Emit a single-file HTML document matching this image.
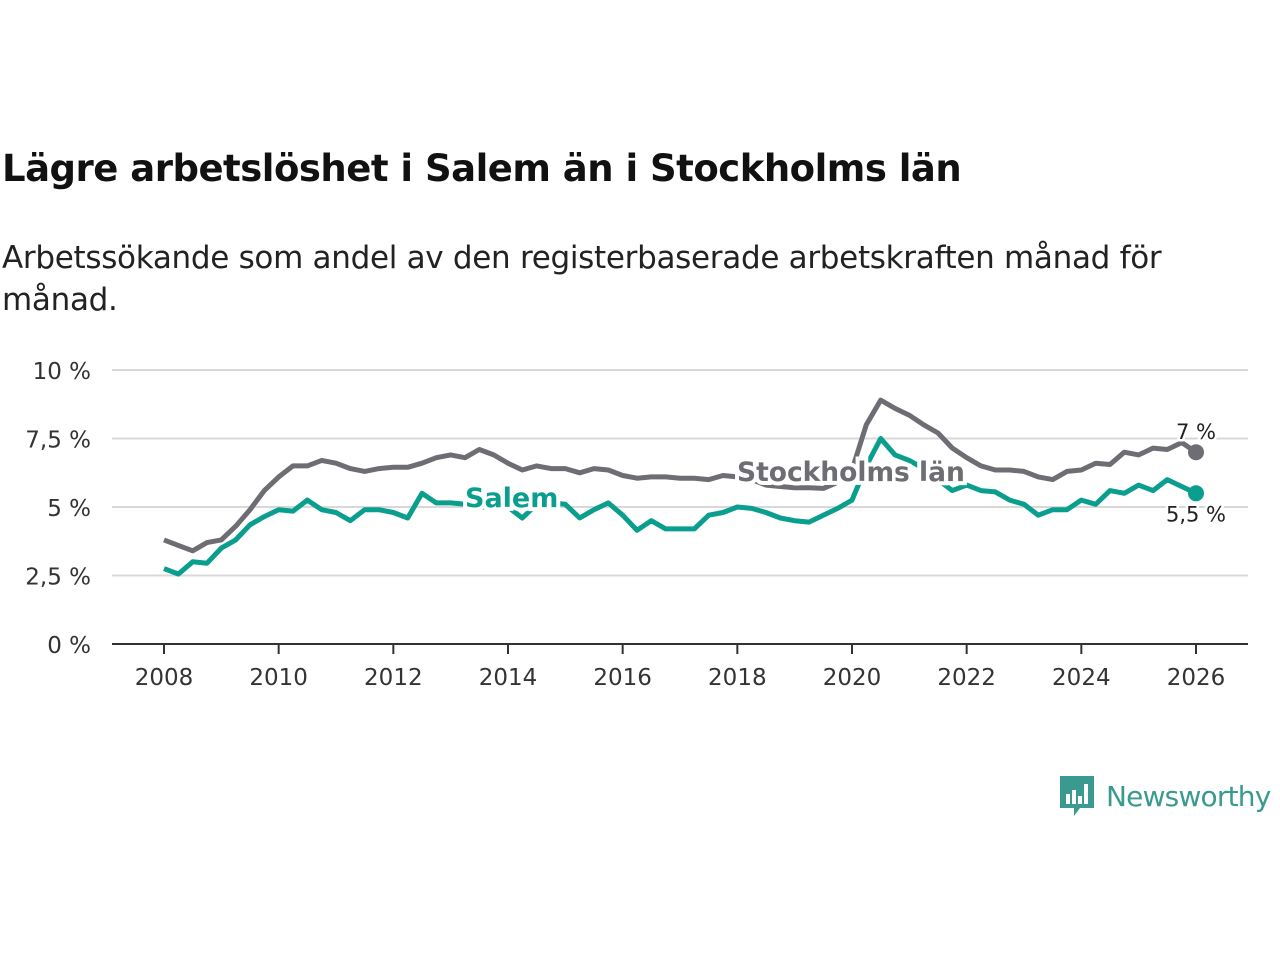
<!DOCTYPE html>
<html><head><meta charset="utf-8"><style>
body{margin:0;background:#fff;font-family:"Liberation Sans","DejaVu Sans",sans-serif;}
#wrap{position:relative;width:1280px;height:960px;overflow:hidden;}
h1{position:absolute;left:2px;top:147px;margin:0;font-size:37px;font-weight:bold;color:#111;font-family:"DejaVu Sans","Liberation Sans",sans-serif;letter-spacing:-0.5px}
.sub{position:absolute;left:2px;top:237px;width:1220px;font-size:31px;line-height:42px;color:#222;font-family:"DejaVu Sans","Liberation Sans",sans-serif;letter-spacing:-0.3px}
svg text{font-family:"DejaVu Sans","Liberation Sans",sans-serif}
</style></head><body><div id="wrap">
<h1>Lägre arbetslöshet i Salem än i Stockholms län</h1>
<div class="sub">Arbetssökande som andel av den registerbaserade arbetskraften månad för månad.</div>
<svg id="chart" width="1280" height="960" style="position:absolute;left:0;top:0"></svg>
<div style="position:absolute;left:1060px;top:774px;display:flex;align-items:center">
<svg width="34" height="44" viewBox="0 0 34 44"><path d="M0 2h34v32H20l-6 8v-8H0z" fill="#3a9a8f"/><rect x="6" y="20" width="4" height="10" fill="#fff"/><rect x="12" y="16" width="4" height="14" fill="#fff"/><rect x="18" y="22" width="4" height="8" fill="#fff"/><rect x="24" y="10" width="4" height="20" fill="#fff"/></svg>
<span style="font-size:28px;color:#3a9a8f;margin-left:12px;font-family:'DejaVu Sans',sans-serif;letter-spacing:-0.8px">Newsworthy</span></div>
</div>
<script>
const years=[2008,2010,2012,2014,2016,2018,2020,2022,2024,2026];
const yTicks=[0,2.5,5,7.5,10];
const yTickLabels=["0 %","2,5 %","5 %","7,5 %","10 %"];
const stockholm=[3.8,3.6,3.4,3.7,3.8,4.3,4.9,5.6,6.1,6.5,6.5,6.7,6.6,6.4,6.3,6.4,6.45,6.45,6.6,6.8,6.9,6.8,7.1,6.9,6.6,6.35,6.5,6.4,6.4,6.25,6.4,6.35,6.15,6.05,6.1,6.1,6.05,6.05,6.0,6.15,6.1,6.0,5.8,5.75,5.7,5.7,5.68,5.9,6.35,8.0,8.9,8.6,8.35,8.0,7.7,7.15,6.8,6.5,6.35,6.35,6.3,6.1,6.0,6.3,6.35,6.6,6.55,7.0,6.9,7.15,7.1,7.35,7.0];
const salem=[2.75,2.55,3.0,2.95,3.5,3.8,4.35,4.65,4.9,4.85,5.25,4.9,4.8,4.5,4.9,4.9,4.8,4.6,5.5,5.15,5.15,5.1,5.0,5.0,5.0,4.6,5.1,5.15,5.1,4.6,4.9,5.15,4.7,4.15,4.5,4.2,4.2,4.2,4.7,4.8,5.0,4.95,4.8,4.6,4.5,4.45,4.7,4.95,5.25,6.5,7.5,6.9,6.7,6.4,6.0,5.6,5.8,5.6,5.55,5.25,5.1,4.7,4.9,4.9,5.25,5.1,5.6,5.5,5.8,5.6,6.0,5.75,5.5];
const svg=document.getElementById('chart');const NS='http://www.w3.org/2000/svg';
const x=t=>164+(t-2008)*(1196-164)/18;const y=v=>644-v*27.4;
function el(tag,attrs,txt){const e=document.createElementNS(NS,tag);for(const k in attrs)e.setAttribute(k,attrs[k]);if(txt!=null)e.textContent=txt;svg.appendChild(e);return e;}
yTicks.forEach((v,i)=>{
 if(v>0){const g=el('line',{x1:112,x2:1248,y1:y(v),y2:y(v),stroke:'#d8d8d8','stroke-width':2});
 
 }
 const t=el('text',{x:91,y:y(v)+9,'text-anchor':'end','font-size':23,fill:'#333'},yTickLabels[i]);
 
 
});
const ax=el('line',{x1:112,x2:1248,y1:644,y2:644,stroke:'#333','stroke-width':2});


years.forEach(yr=>{
 const tk=el('line',{x1:x(yr),x2:x(yr),y1:644,y2:654,stroke:'#333','stroke-width':2});
 
 
 const t=el('text',{x:x(yr),y:685,'text-anchor':'middle','font-size':23,fill:'#333'},yr);
 
 
});
function line(data,color,name){
 const d=data.map((v,i)=>(i?'L':'M')+x(2008+i/4).toFixed(1)+','+y(v).toFixed(1)).join('');
 const p=el('path',{d:d,fill:'none',stroke:color,'stroke-width':5,'stroke-linejoin':'round'});
 
 
 const n=data.length-1;
 const c=el('circle',{cx:x(2008+n/4),cy:y(data[n]),r:8,fill:color});
 
 
}
line(stockholm,'#6e6d73','stockholm-line');
line(salem,'#0a9e8e','salem-line');
const l1=el('text',{x:465,y:507,'font-size':27,'font-weight':'bold',fill:'#0a9e8e',stroke:'#fff','stroke-width':8,'paint-order':'stroke'},'Salem');


const l2=el('text',{x:737,y:481,'font-size':26.5,'font-weight':'bold',fill:'#6e6d73',stroke:'#fff','stroke-width':8,'paint-order':'stroke'},'Stockholms län');


const n=stockholm.length-1;
const v1=el('text',{x:1196,y:y(stockholm[n])-13,'text-anchor':'middle','font-size':21,fill:'#222',stroke:'#fff','stroke-width':5,'paint-order':'stroke'},String(stockholm[n]).replace('.',',')+' %');


const v2=el('text',{x:1196,y:y(salem[n])+28,'text-anchor':'middle','font-size':21,fill:'#222',stroke:'#fff','stroke-width':5,'paint-order':'stroke'},String(salem[n]).replace('.',',')+' %');


</script>
</body></html>
